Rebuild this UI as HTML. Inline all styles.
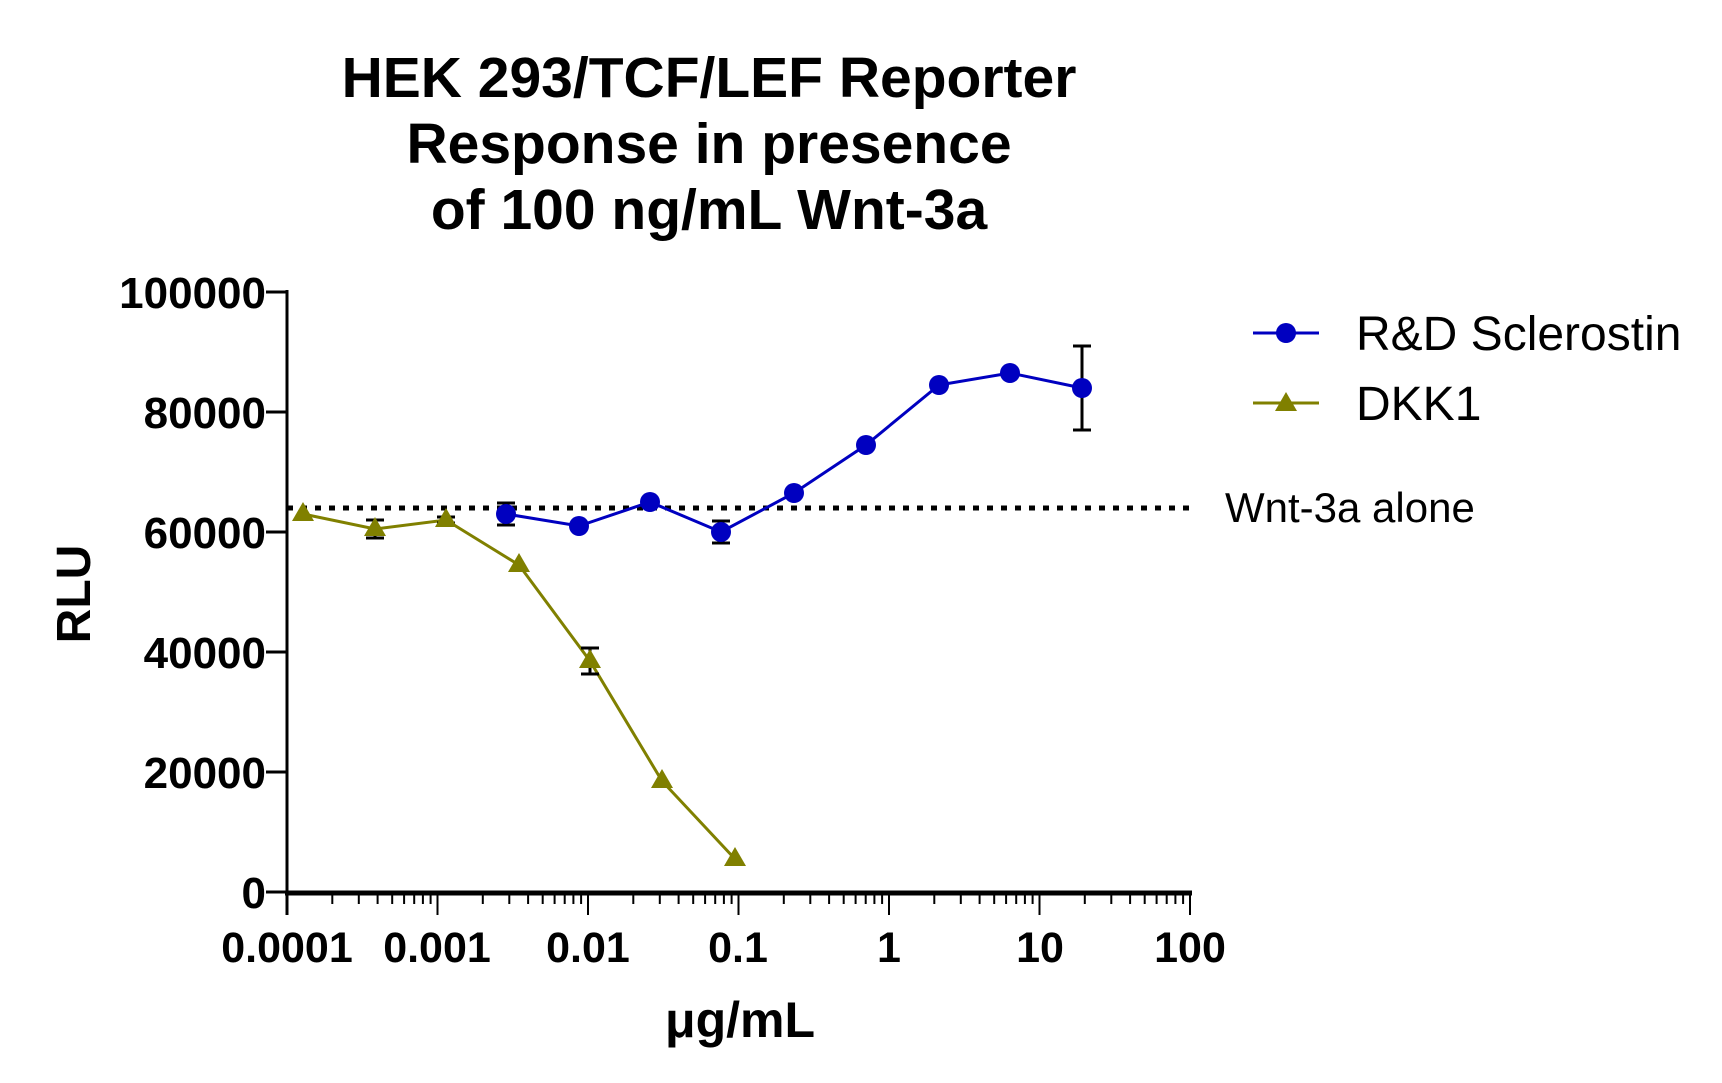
<!DOCTYPE html>
<html><head><style>body{margin:0;background:#fff}svg{display:block}</style></head><body>
<svg width="1722" height="1083" xmlns="http://www.w3.org/2000/svg" xmlns:xlink="http://www.w3.org/1999/xlink" font-family="Liberation Sans, Arial, sans-serif">
<defs>
<g id="dec" stroke="#000" stroke-width="2">
<line x1="0" y1="893" x2="0" y2="915"/>
<line x1="45.3" y1="893" x2="45.3" y2="904"/><line x1="71.8" y1="893" x2="71.8" y2="904"/>
<line x1="90.6" y1="893" x2="90.6" y2="904"/><line x1="105.2" y1="893" x2="105.2" y2="904"/>
<line x1="117.1" y1="893" x2="117.1" y2="904"/><line x1="127.2" y1="893" x2="127.2" y2="904"/>
<line x1="135.9" y1="893" x2="135.9" y2="904"/><line x1="143.6" y1="893" x2="143.6" y2="904"/>
</g>
</defs>
<g font-weight="bold" font-size="57" text-anchor="middle" fill="#000">
<text x="709" y="97">HEK 293/TCF/LEF Reporter</text>
<text x="709" y="163">Response in presence</text>
<text x="709" y="229">of 100 ng/mL Wnt-3a</text>
</g>
<line x1="287" y1="290" x2="287" y2="915" stroke="#000" stroke-width="3"/>
<line x1="285" y1="893" x2="1192" y2="893" stroke="#000" stroke-width="5"/>
<g stroke="#000" stroke-width="3">
<line x1="266" y1="292" x2="287" y2="292"/><line x1="266" y1="412" x2="287" y2="412"/>
<line x1="266" y1="532" x2="287" y2="532"/><line x1="266" y1="652" x2="287" y2="652"/>
<line x1="266" y1="772" x2="287" y2="772"/><line x1="266" y1="892" x2="287" y2="892"/>
</g>
<use xlink:href="#dec" x="287"/><use xlink:href="#dec" x="437.5"/><use xlink:href="#dec" x="588"/>
<use xlink:href="#dec" x="738.5"/><use xlink:href="#dec" x="889"/><use xlink:href="#dec" x="1039.5"/>
<line x1="1190" y1="893" x2="1190" y2="915" stroke="#000" stroke-width="2"/>
<g font-weight="bold" font-size="44" text-anchor="end">
<text x="266" y="308">100000</text><text x="266" y="428">80000</text><text x="266" y="548">60000</text>
<text x="266" y="668">40000</text><text x="266" y="788">20000</text><text x="266" y="908">0</text>
</g>
<g font-weight="bold" font-size="43" text-anchor="middle">
<text x="287" y="962">0.0001</text><text x="437" y="962">0.001</text><text x="588" y="962">0.01</text>
<text x="738" y="962">0.1</text><text x="889" y="962">1</text><text x="1040" y="962">10</text><text x="1190" y="962">100</text>
<text x="740" y="1037" font-size="50">μg/mL</text>
<text transform="translate(90,594) rotate(-90)" font-size="48">RLU</text>
</g>
<line x1="287" y1="508" x2="1195" y2="508" stroke="#000" stroke-width="5" stroke-dasharray="6,8"/>
<text x="1225" y="522" font-size="42">Wnt-3a alone</text>
<g transform="translate(-4,0)">
<g stroke="#808000" stroke-width="3" fill="#808000">
<polyline fill="none" points="307,514 379,529 450,520 523,565 594,661 666,781 739,859"/>
<g stroke="#000"><line x1="379" y1="520" x2="379" y2="538"/><line x1="370" y1="520" x2="388" y2="520"/><line x1="370" y1="538" x2="388" y2="538"/>
<line x1="450" y1="517" x2="450" y2="523"/><line x1="441" y1="517" x2="459" y2="517"/><line x1="441" y1="523" x2="459" y2="523"/>
<line x1="594" y1="648" x2="594" y2="674"/><line x1="585" y1="648" x2="603" y2="648"/><line x1="585" y1="674" x2="603" y2="674"/></g>
<g stroke="none">
<polygon points="307,502 296,521 318,521"/><polygon points="379,517 368,536 390,536"/><polygon points="450,508 439,527 461,527"/>
<polygon points="523,553 512,572 534,572"/><polygon points="594,649 583,668 605,668"/><polygon points="666,769 655,788 677,788"/>
<polygon points="739,847 728,866 750,866"/>
</g>
</g>
<g stroke="#0000c0" stroke-width="3" fill="#0000c0">
<polyline fill="none" points="510,514 583,526 654,502 725,532 798,493 870,445 943,385 1014,373 1086,388"/>
<g stroke="#000"><line x1="510" y1="503" x2="510" y2="525"/><line x1="501" y1="503" x2="519" y2="503"/><line x1="501" y1="525" x2="519" y2="525"/>
<line x1="725" y1="521" x2="725" y2="543"/><line x1="716" y1="521" x2="734" y2="521"/><line x1="716" y1="543" x2="734" y2="543"/>
<line x1="1086" y1="346" x2="1086" y2="430"/><line x1="1077" y1="346" x2="1095" y2="346"/><line x1="1077" y1="430" x2="1095" y2="430"/></g>
<g stroke="none">
<circle cx="510" cy="514" r="10"/><circle cx="583" cy="526" r="10"/><circle cx="654" cy="502" r="10"/><circle cx="725" cy="532" r="10"/>
<circle cx="798" cy="493" r="10"/><circle cx="870" cy="445" r="10"/><circle cx="943" cy="385" r="10"/><circle cx="1014" cy="373" r="10"/><circle cx="1086" cy="388" r="10"/>
</g>
</g>
</g>
<line x1="1253" y1="333" x2="1319" y2="333" stroke="#0000c0" stroke-width="3"/><circle cx="1286" cy="333" r="10" fill="#0000c0"/>
<line x1="1253" y1="403" x2="1319" y2="403" stroke="#808000" stroke-width="3"/><polygon points="1286,392 1275,411 1297,411" fill="#808000"/>
<text x="1356" y="350" font-size="48">R&amp;D Sclerostin</text>
<text x="1356" y="420" font-size="48">DKK1</text>
</svg>
</body></html>
